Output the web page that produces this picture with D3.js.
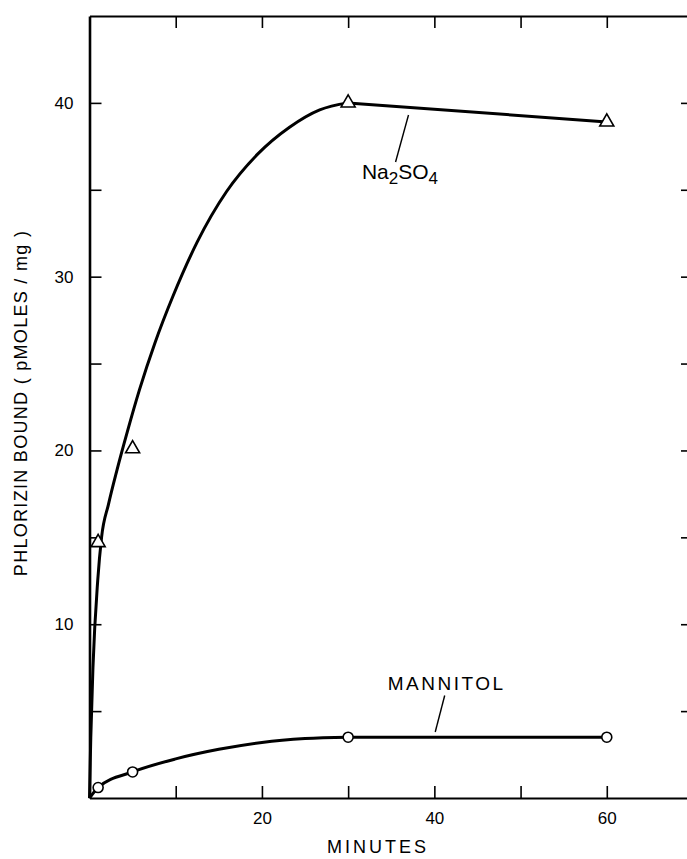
<!DOCTYPE html>
<meta charset="utf-8">
<style>
  body {
    margin: 0;
    background-color: #fff;
  }

  svg {
    display: block;
  }

  .axis path,
  .axis line {
    fill: none;
    stroke: #000;
  }

  .axis path {
    stroke-width: 2px;
  }

  .axis--y path {
    stroke-width: 2.6px;
  }

  .axis line {
    stroke-width: 1.6px;
  }

  .axis text {
    font: 17px "Liberation Sans", Arial, sans-serif;
    fill: #000;
  }

  .fit {
    fill: none;
    stroke: #000;
    stroke-width: 3px;
  }

  .marker {
    fill: #fff;
    stroke: #000;
    stroke-width: 1.6px;
  }

  .note {
    font-family: "Liberation Sans", Arial, sans-serif;
    fill: #000;
  }

  .pointer {
    stroke: #000;
    stroke-width: 1.4px;
  }
</style>
<svg width="687" height="859"></svg>
<script src="https://d3js.org/d3.v7.min.js"></script>

<script>
  // measured points
  var minutes = [1, 5, 30, 60];
  var na2so4 = [14.7, 20.1, 40.0, 38.9];
  var mannitol = [0.6, 1.5, 3.5, 3.5];

  // hand drawn fit curves
  var naFitMin = [0, 0.15, 0.4, 0.95, 1.4, 2.2, 3.2, 4.4, 5.8, 7.6, 9.7, 12.5, 15.9, 19.5, 23.2, 26.7, 30];
  var naFitVal = [0, 3.5, 7.5, 12.5, 15.0, 16.9, 18.9, 21.1, 23.5, 26.2, 28.9, 32.0, 34.9, 37.05, 38.6, 39.6, 40.0];
  var manFitMin = [0, 1, 5, 10, 15, 20, 25, 30];
  var manFitVal = [0, 0.6, 1.5, 2.25, 2.8, 3.2, 3.42, 3.5];

  var xTicks = [10, 20, 30, 40, 50, 60];
  var xLabels = [20, 40, 60];
  var yTicks = [5, 10, 15, 20, 25, 30, 35, 40];
  var yLabels = [10, 20, 30, 40];

  var svg = d3.select("svg");

  var x = d3.scaleLinear().domain([0, 70]).range([89.5, 693]),
    y = d3.scaleLinear().domain([0, 45]).range([798, 16]);

  var fmt = function (list) {
    return function (d) { return list.indexOf(d) >= 0 ? d : ""; };
  };

  svg.append("g")
    .attr("class", "axis axis--x")
    .attr("transform", "translate(0," + y(0) + ")")
    .call(d3.axisBottom(x).tickValues(xTicks).tickSizeInner(-12).tickSizeOuter(0).tickPadding(14).tickFormat(fmt(xLabels)));

  svg.append("g")
    .attr("class", "axis")
    .attr("transform", "translate(0," + y(45) + ")")
    .call(d3.axisTop(x).tickValues(xTicks).tickSizeInner(-12).tickSizeOuter(0).tickFormat(""));

  svg.append("g")
    .attr("class", "axis axis--y")
    .attr("transform", "translate(" + x(0) + ",0)")
    .call(d3.axisLeft(y).tickValues(yTicks).tickSizeInner(-12).tickSizeOuter(0).tickPadding(16).tickFormat(fmt(yLabels)));

  svg.append("g")
    .attr("class", "axis")
    .attr("transform", "translate(" + x(70) + ",0)")
    .call(d3.axisRight(y).tickValues(yTicks).tickSizeInner(-12).tickSizeOuter(0).tickFormat(""));

  // axis titles
  svg.append("text")
    .attr("class", "note")
    .attr("x", 378)
    .attr("y", 853)
    .attr("text-anchor", "middle")
    .style("font-size", "18px")
    .style("letter-spacing", "3px")
    .text("MINUTES");

  svg.append("text")
    .attr("class", "note")
    .attr("transform", "translate(27,403) rotate(-90)")
    .attr("text-anchor", "middle")
    .style("font-size", "18px")
    .style("letter-spacing", "1.3px")
    .text("PHLORIZIN BOUND ( pMOLES / mg )");

  // curves
  var smooth = d3.line()
    .x(function (d) { return x(d[0]); })
    .y(function (d) { return y(d[1]); })
    .curve(d3.curveMonotoneX);
  var straight = d3.line()
    .x(function (d) { return x(d[0]); })
    .y(function (d) { return y(d[1]); });

  svg.append("path").attr("class", "fit").attr("d", smooth(d3.zip(naFitMin, naFitVal)));
  svg.append("path").attr("class", "fit").attr("d", straight(d3.zip(minutes, na2so4).slice(2)));
  svg.append("path").attr("class", "fit").attr("d", smooth(d3.zip(manFitMin, manFitVal)));
  svg.append("path").attr("class", "fit").attr("d", straight(d3.zip(minutes, mannitol).slice(2)));

  // markers
  svg.selectAll(".tri")
    .data(d3.zip(minutes, na2so4))
    .enter().append("path")
    .attr("class", "marker tri")
    .attr("d", d3.symbol(d3.symbolTriangle, 85))
    .attr("transform", function (d) { return "translate(" + x(d[0]) + "," + y(d[1]) + ")"; });

  svg.selectAll(".dot")
    .data(d3.zip(minutes, mannitol))
    .enter().append("circle")
    .attr("class", "marker dot")
    .attr("cx", function (d) { return x(d[0]); })
    .attr("cy", function (d) { return y(d[1]); })
    .attr("r", 5);

  // labels with pointer lines (data units)
  var naNote = { at: [31.6, 35.6], from: [37.0, 39.3], to: [35.5, 36.6] };
  var manNote = { at: [34.6, 6.2], from: [41.2, 5.9], to: [40.1, 3.8] };

  [naNote, manNote].forEach(function (n) {
    svg.append("line")
      .attr("class", "pointer")
      .attr("x1", x(n.from[0])).attr("y1", y(n.from[1]))
      .attr("x2", x(n.to[0])).attr("y2", y(n.to[1]));
  });

  var na = svg.append("text")
    .attr("class", "note")
    .attr("x", x(naNote.at[0]))
    .attr("y", y(naNote.at[1]))
    .style("font-size", "21px");
  na.append("tspan").text("Na");
  na.append("tspan").attr("dy", 5).style("font-size", "17px").text("2");
  na.append("tspan").attr("dy", -5).text("SO");
  na.append("tspan").attr("dy", 5).style("font-size", "17px").text("4");

  svg.append("text")
    .attr("class", "note")
    .attr("x", x(manNote.at[0]))
    .attr("y", y(manNote.at[1]))
    .style("font-size", "19px")
    .style("letter-spacing", "2.5px")
    .text("MANNITOL");
</script>
